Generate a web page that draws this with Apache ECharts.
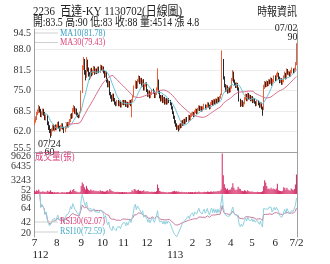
<!DOCTYPE html>
<html><head><meta charset="utf-8">
<script src="https://cdn.jsdelivr.net/npm/echarts@6/dist/echarts.min.js"></script>
<style>html,body{margin:0;padding:0;background:#fff}#c{width:330px;height:264px}</style>
</head><body><div id="c"></div>
<script>
// ---- data ----
const openP = [
64.5,65.2,66.0,67.8,68.2,69.5,68.8,67.0,67.5,68.8,67.8,66.0,67.0,64.8,63.5,62.2,61.0,62.4,63.8,62.5,63.8,
62.8,63.6,64.8,63.4,62.5,63.2,64.2,63.2,62.0,63.2,64.5,63.6,64.5,65.4,67.2,66.6,68.6,69.6,67.8,69.0,67.6,67.2,66.8,
68.0,74.8,82.5,84.5,80.8,79.2,84.2,81.8,80.2,79.2,81.6,80.2,81.0,82.2,80.6,81.6,80.8,82.2,81.0,82.6,
81.6,82.2,81.0,79.5,80.6,78.2,76.5,77.8,74.0,73.2,72.0,73.6,72.2,71.0,70.5,71.6,70.4,71.4,70.0,70.8,
71.6,70.8,71.6,70.2,71.0,70.0,70.8,71.6,70.4,71.8,73.2,76.0,77.6,76.0,78.0,79.2,77.5,78.6,76.5,78.2,75.5,76.6,
77.2,75.0,73.4,74.6,73.0,74.0,75.2,74.6,73.0,74.0,75.5,77.8,74.6,73.2,72.0,73.2,71.5,72.6,71.0,72.2,71.0,
72.0,71.6,70.8,69.6,68.0,66.6,65.2,64.2,63.0,63.6,62.8,64.2,63.5,65.2,64.2,65.6,64.8,66.2,65.5,66.8,66.0,67.0,
67.4,67.8,67.0,68.2,68.8,68.0,69.0,69.8,69.0,69.6,68.8,69.5,70.2,69.4,70.0,
70.8,70.0,69.5,70.8,71.5,70.6,71.8,71.0,72.0,71.2,72.5,71.8,72.8,74.0,84.5,79.0,76.5,75.0,76.2,74.5,75.5,
74.8,76.0,78.5,80.5,78.0,77.0,76.2,77.0,75.5,72.0,70.5,71.5,70.2,71.0,72.5,73.5,72.0,73.8,72.5,73.2,
72.0,72.8,71.5,72.2,71.2,70.5,71.5,70.8,70.0,70.8,69.5,69.0,76.0,77.2,76.5,77.5,76.8,78.0,77.5,78.5,77.0,78.0,
79.2,78.5,79.8,80.2,79.0,77.8,78.5,77.2,78.0,79.2,80.2,79.0,81.2,80.2,80.5,79.8,80.8,81.5,81.0,
81.5,83.5];
const closeP = [
65.0,66.2,67.5,68.0,69.2,68.5,67.0,67.8,68.6,67.5,66.0,66.8,64.5,63.0,62.0,61.2,62.5,63.5,62.8,63.6,62.9,
63.8,64.5,63.2,62.6,63.5,64.0,63.0,62.2,63.4,64.2,63.8,64.6,65.5,67.0,66.5,68.8,69.5,68.0,68.8,67.5,67.0,66.8,67.8,
74.5,82.0,84.5,80.5,79.0,84.0,81.5,80.0,79.0,81.5,80.0,81.0,82.0,80.5,81.5,80.8,82.0,81.0,82.5,81.8,
82.0,81.0,79.5,80.5,78.0,76.5,77.5,74.0,73.0,72.0,73.5,72.0,71.0,70.5,71.5,70.5,71.2,70.0,70.8,71.5,
70.8,71.5,70.2,71.0,70.0,70.8,71.5,70.5,71.8,73.0,76.0,77.5,76.0,78.0,79.0,77.5,78.5,76.5,78.0,75.5,76.5,77.0,
75.0,73.5,74.5,73.0,74.0,75.0,74.5,73.0,74.0,75.5,77.5,74.5,73.0,72.0,73.0,71.5,72.5,71.0,72.0,71.0,71.8,
71.5,70.8,69.5,68.0,66.5,65.0,64.0,63.0,63.5,62.8,64.0,63.5,65.0,64.2,65.5,64.8,66.0,65.5,66.8,66.0,67.2,67.5,
67.8,67.0,68.2,68.8,68.0,69.0,69.8,69.0,69.6,68.8,69.5,70.2,69.4,70.0,70.8,
70.0,69.5,70.8,71.5,70.6,71.8,71.0,72.0,71.2,72.5,71.8,72.8,73.5,84.0,79.0,76.5,75.0,76.2,74.5,75.5,74.8,
76.0,78.5,80.5,78.0,77.0,76.2,77.0,75.5,72.0,70.5,71.5,70.2,71.0,72.5,73.5,72.0,73.8,72.5,73.2,72.0,
72.8,71.5,72.2,71.2,70.5,71.5,70.8,70.0,70.8,69.5,68.5,76.0,77.2,76.5,77.5,76.8,78.0,77.5,78.5,77.0,78.0,79.2,
78.5,79.8,80.2,79.0,77.8,78.5,77.2,78.0,79.2,80.2,79.0,81.2,80.5,80.5,79.8,80.8,81.5,81.0,81.5,
83.2,88.0];
const highP = [
65.8,66.8,68.2,69.0,70.4,70.0,69.2,68.4,69.3,69.2,68.2,67.4,67.3,65.2,64.0,62.8,63.0,64.2,64.3,64.0,64.2,
64.2,65.0,65.2,63.8,64.0,64.6,64.6,63.5,63.8,64.8,65.0,65.1,66.0,67.6,67.8,69.4,70.4,70.0,69.4,69.3,68.0,67.6,68.3,
75.0,83.0,85.6,85.0,81.5,85.6,84.8,82.3,80.8,82.0,82.2,81.6,82.8,82.6,82.0,82.0,82.6,82.6,83.2,83.0,
82.8,82.6,81.4,81.2,81.0,78.6,78.2,78.0,74.5,73.6,74.0,74.0,72.6,71.5,72.0,72.0,71.7,71.8,71.3,72.0,
72.0,72.0,72.0,71.5,71.4,71.3,72.0,72.0,72.3,73.6,76.6,78.2,78.0,78.6,79.8,79.6,79.0,79.0,78.5,78.6,77.0,77.6,
77.6,75.4,75.0,75.0,74.5,75.5,75.6,75.0,74.5,76.0,82.0,78.5,75.0,73.6,73.5,73.6,73.0,73.0,72.5,72.6,72.3,
72.6,72.0,71.2,70.0,68.4,67.0,65.6,64.6,64.0,64.0,64.5,64.6,65.5,65.6,66.0,66.0,66.5,66.6,67.3,67.2,67.7,68.0,
68.3,68.2,68.7,69.3,69.2,69.5,70.3,70.2,70.1,70.0,70.0,70.8,70.6,70.5,71.3,
71.2,70.5,71.3,72.0,71.9,72.3,72.2,72.5,72.4,73.0,72.9,73.3,74.0,87.7,85.0,79.5,77.0,76.8,76.6,76.0,76.0,
76.6,79.0,81.5,81.0,78.5,77.5,77.6,77.4,76.0,72.4,72.0,71.9,71.5,73.0,74.0,73.9,74.3,74.2,73.7,73.6,
73.3,73.2,72.7,72.6,71.6,72.0,71.9,71.2,71.3,71.2,69.9,76.8,78.0,77.8,78.2,78.0,78.6,78.5,79.2,79.0,78.6,79.8,
79.8,80.5,81.0,80.6,79.4,79.0,78.9,78.5,79.8,81.0,80.6,82.0,81.8,81.2,81.0,81.5,82.3,82.0,82.2,
84.0,90.0];
const lowP = [
64.0,64.8,65.6,67.2,67.8,68.0,66.6,66.5,67.2,67.0,65.6,65.5,64.0,62.5,61.5,60.0,60.6,62.0,62.3,62.0,62.4,
62.4,63.2,62.8,62.0,62.1,62.8,62.6,61.5,61.8,62.9,63.3,63.2,64.1,65.0,66.0,66.2,68.2,67.6,67.4,67.0,66.5,66.2,66.4,
67.8,74.2,81.5,80.0,78.2,79.0,81.0,79.4,78.3,78.8,79.5,79.8,80.6,80.0,80.2,80.2,80.4,80.5,80.6,81.2,
81.0,80.4,79.0,79.2,77.5,76.0,76.0,73.5,72.4,71.4,71.6,71.5,70.5,70.0,70.1,70.0,70.0,69.6,69.6,70.4,
70.3,70.4,69.8,69.8,69.5,69.6,70.4,70.0,66.5,71.4,72.8,75.6,75.5,75.7,77.6,77.0,77.1,76.0,76.1,75.0,75.0,76.2,
74.5,73.0,73.0,72.5,72.6,73.6,74.0,72.6,72.6,73.6,75.0,74.0,72.5,71.5,71.6,71.0,71.1,70.5,70.6,70.5,70.6,
71.0,70.3,69.0,67.5,66.0,64.5,63.5,62.5,62.6,62.0,62.4,63.0,63.1,63.8,63.8,64.3,64.4,65.0,65.1,65.5,65.6,66.6,
67.0,66.6,66.6,67.8,67.5,67.6,68.6,68.5,68.6,68.3,68.4,69.1,69.0,69.0,69.6,
69.5,69.0,69.1,70.4,70.1,70.2,70.5,70.6,70.8,70.8,71.3,71.4,72.4,73.6,78.5,76.0,74.5,74.6,74.0,74.1,74.3,
74.4,75.6,78.0,77.5,76.5,75.8,75.8,75.0,71.5,69.8,70.0,69.8,69.8,70.6,72.1,71.6,71.6,72.0,72.1,71.6,
71.6,71.0,71.1,70.8,70.0,70.1,70.3,69.5,69.6,69.0,67.0,68.8,75.5,76.0,76.1,76.3,76.4,77.0,77.1,76.5,76.6,77.6,
78.0,78.1,79.3,78.5,77.3,77.4,76.8,76.8,77.6,78.8,78.5,78.6,80.0,79.8,79.3,79.4,80.4,80.5,80.5,
81.0,83.0];
const volume = [
820,650,900,760,1100,640,520,580,700,480,560,430,780,620,540,900,560,480,420,510,390,
460,520,380,350,420,480,390,440,360,520,430,460,610,880,560,980,1200,760,640,580,450,420,560,
1850,2700,2300,1600,1100,1900,1300,950,800,1100,860,780,900,700,820,650,760,640,900,700,
720,640,580,620,800,900,640,1200,880,760,620,580,520,480,540,460,520,430,480,520,
460,520,430,480,420,460,520,480,900,700,1200,1100,780,900,1000,760,820,700,760,900,640,600,
700,620,560,520,540,580,520,560,500,700,2200,1400,760,620,520,560,480,500,440,420,460,
480,440,520,600,700,760,640,700,560,620,520,480,560,460,520,440,480,420,500,440,480,460,
480,420,500,560,460,520,600,480,460,440,520,560,480,500,620,
560,480,600,640,520,700,560,640,600,760,700,820,1100,9300,4300,2300,1500,1100,1300,900,1000,
1100,1600,2500,1500,1000,900,1100,1700,1300,1200,800,760,700,900,820,640,900,700,620,560,
600,560,520,480,500,540,480,520,460,540,700,1800,3200,2700,1900,1200,1300,1100,1500,1100,1300,1200,
1000,1300,2400,900,800,760,700,800,1600,1400,1000,1500,1100,900,800,1300,1100,900,1200,
2200,4514];
// x tick labels (month starts) and year labels
const tickIndex = [0,21,44,64,84,106,127,149,164,185,205,227,247];
const tickLabel = ['7','8','9','10','11','12','1','2','3','4','5','6','7/2'];
const yearIndex = [0,127];
const yearLabel = ['112','113'];
// axis tick values
const priceTicks = [55.5,62.0,68.5,75.0,81.5,88.0,94.5];
const volTicks = [52,3243,6435,9626];
const rsiTicks = [20,42,64,86];
// legend values as printed on the chart
const ma10Last = '81.78', ma30Last = '79.43', rsi30Last = '62.07', rsi10Last = '72.59';
// annotations
const lowNote = {index: 15, date: '07/24', value: 60};
const highNote = {index: 247, date: '07/02', value: 90};

// ---- indicators derived from the closes ----
function ma(n){ return closeP.map((c,i)=>{ if(i<n-1) return '-'; let s=0; for(let k=i-n+1;k<=i;k++) s+=closeP[k]; return +(s/n).toFixed(2); }); }
function rsi(n){ const out=['-']; let ag=0, al=0;
  for(let i=1;i<closeP.length;i++){ const d=closeP[i]-closeP[i-1]; const g=Math.max(d,0), l=Math.max(-d,0);
    const k=Math.min(i,n); ag=(ag*(k-1)+g)/k; al=(al*(k-1)+l)/k;
    out.push(i<3?'-':+(100*ag/(ag+al||1)).toFixed(2)); }
  return out; }

const cats = closeP.map((_,i)=>String(i));
const kData = closeP.map((c,i)=>[openP[i],c,lowP[i],highP[i]]);
const last = closeP.length-1;
const serif = '"Liberation Serif","Noto Sans CJK TC",serif';

const chart = echarts.init(document.getElementById('c'), null, {renderer:'canvas'});
const lbl = {fontFamily: serif, fontSize: 10, lineHeight: 8, padding: 0, color: '#333', margin: 3, showMinLabel: true, showMaxLabel: true, hideOverlap: false,
  verticalAlignMaxLabel:'top', verticalAlignMinLabel:'bottom'};
const rightAxis = (g)=>({type:'value', gridIndex:g, position:'right', axisLine:{show:true, lineStyle:{color:'#a0a0a0'}}, axisTick:{show:false}, axisLabel:{show:false}, splitLine:{show:false}});
chart.setOption({
  animation:false,
  backgroundColor:'#fff',
  grid:[
    {left:34, right:33, top:29, height:123},
    {left:34, right:33, top:152, height:42},
    {left:34, right:33, top:194, height:43}
  ],
  xAxis:[
    {type:'category', gridIndex:0, data:cats, boundaryGap:true, axisLine:{show:true, lineStyle:{color:'#a0a0a0'}}, axisTick:{show:false}, axisLabel:{show:false}, splitLine:{show:false}},
    {type:'category', gridIndex:1, data:cats, boundaryGap:true, axisLine:{show:false}, axisTick:{show:false}, axisLabel:{show:false}},
    {type:'category', gridIndex:2, data:cats, boundaryGap:true, axisLine:{show:false}, axisTick:{show:false},
      axisLabel:{show:true, interval:(i)=>tickIndex.includes(i), formatter:(v,i)=>tickLabel[tickIndex.indexOf(i)] ?? '',
        fontFamily:serif, fontSize:11, color:'#222', margin:1}},
    {type:'category', gridIndex:2, data:cats, boundaryGap:true, position:'bottom', offset:12, axisLine:{show:false}, axisTick:{show:false},
      axisLabel:{show:true, interval:(i)=>yearIndex.includes(i), formatter:(v,i)=>yearLabel[yearIndex.indexOf(i)] ?? '',
        fontFamily:serif, fontSize:11, color:'#222', margin:1, align:'left', padding:[0,0,0,-2]}}
  ],
  yAxis:[
    {type:'value', gridIndex:0, min:priceTicks[0], max:priceTicks[priceTicks.length-1], interval:priceTicks[1]-priceTicks[0],
      axisLine:{show:true, lineStyle:{color:'#a0a0a0'}}, axisTick:{show:false},
      axisLabel:Object.assign({}, lbl, {formatter:(v)=>v.toFixed(1)}),
      splitLine:{show:true, lineStyle:{color:'#ececec', width:1}}},
    {type:'value', gridIndex:1, min:volTicks[0], max:volTicks[volTicks.length-1], interval:(volTicks[3]-volTicks[0])/3,
      axisLine:{show:true, lineStyle:{color:'#a0a0a0'}}, axisTick:{show:false},
      axisLabel:Object.assign({}, lbl, {formatter:(v)=>String(Math.round(v))}),
      splitLine:{show:false}},
    {type:'value', gridIndex:2, min:rsiTicks[0], max:rsiTicks[rsiTicks.length-1], interval:rsiTicks[1]-rsiTicks[0],
      axisLine:{show:true, lineStyle:{color:'#a0a0a0'}}, axisTick:{show:false},
      axisLabel:Object.assign({}, lbl),
      splitLine:{show:false}},
    rightAxis(0), rightAxis(1), rightAxis(2)
  ],
  series:[
    {type:'candlestick', xAxisIndex:0, yAxisIndex:0, data:kData, barWidth:1,
      itemStyle:{color:'#e8603c', color0:'#2a2a2a', borderColor:'#e8603c', borderColor0:'#2a2a2a', borderWidth:1},
      markPoint:{silent:true, data:[
        {coord:[lowNote.index, lowNote.value], symbol:'rect', symbolSize:[0.8,4], symbolOffset:[-1,3], itemStyle:{color:'#555'},
          label:{show:true, position:'bottom', distance:-1, offset:[0,-1], formatter:lowNote.date+'\n'+lowNote.value, fontFamily:serif, fontSize:10, lineHeight:8, color:'#222'}},
        {coord:[highNote.index, highNote.value], symbol:'rect', symbolSize:[0.1,0.1], itemStyle:{color:'#555'},
          label:{show:true, position:'top', distance:1, align:'right', offset:[1,0], formatter:highNote.date+'\n'+highNote.value, fontFamily:serif, fontSize:10, lineHeight:9, color:'#222'}}
      ]}},
    {type:'line', name:'MA10', xAxisIndex:0, yAxisIndex:0, data:ma(10), symbol:'none', lineStyle:{color:'#6cc3d6', width:1}, z:3},
    {type:'line', name:'MA30', xAxisIndex:0, yAxisIndex:0, data:ma(30), symbol:'none', lineStyle:{color:'#d9708c', width:1}, z:3},
    {type:'bar', xAxisIndex:1, yAxisIndex:1, data:volume, barCategoryGap:'0%', itemStyle:{color:'#d6336c'}},
    {type:'line', name:'RSI30', xAxisIndex:2, yAxisIndex:2, data:rsi(30), symbol:'none', lineStyle:{color:'#c97b9c', width:1}},
    {type:'line', name:'RSI10', xAxisIndex:2, yAxisIndex:2, data:rsi(10), symbol:'none', lineStyle:{color:'#8fd0de', width:1}}
  ],
  graphic:[
    {type:'text', x:33, y:12, scaleX:0.84, z:100, style:{text:'2236  百達-KY 1130702(日線圖)', font:'13px '+serif, fill:'#222', verticalAlign:'middle'}},
    {type:'text', x:33, y:23, scaleX:0.82, z:100, style:{text:'開:'+openP[last]+' 高:'+highP[last]+' 低:'+lowP[last]+' 收:'+closeP[last]+' 量:'+volume[last]+' 漲 '+(closeP[last]-closeP[last-1]).toFixed(1), font:'12px '+serif, fill:'#222', verticalAlign:'middle'}},
    {type:'text', x:297, y:13, scaleX:0.83, z:100, style:{text:'時報資訊', font:'12px '+serif, fill:'#222', align:'right', verticalAlign:'middle'}},
    {type:'line', z:100, shape:{x1:35, y1:33, x2:58, y2:33}, style:{stroke:'#cfcfcf', lineWidth:1}},
    {type:'text', x:60, y:33, scaleX:0.82, z:100, style:{text:'MA10('+ma10Last+')', font:'10px '+serif, fill:'#3aa0c2', verticalAlign:'middle'}},
    {type:'line', z:100, shape:{x1:35, y1:42.5, x2:58, y2:42.5}, style:{stroke:'#cfcfcf', lineWidth:1}},
    {type:'text', x:60, y:42.5, scaleX:0.82, z:100, style:{text:'MA30('+ma30Last+')', font:'10px '+serif, fill:'#e0457a', verticalAlign:'middle'}},
    {type:'text', x:35, y:157, scaleX:0.85, z:100, style:{text:'成交量(張)', font:'10px '+serif, fill:'#d9407a', verticalAlign:'middle'}},
    {type:'line', z:100, shape:{x1:35, y1:222, x2:58, y2:222}, style:{stroke:'#cfcfcf', lineWidth:1}},
    {type:'text', x:60, y:221.5, scaleX:0.82, z:100, style:{text:'RSI30('+rsi30Last+')', font:'10px '+serif, fill:'#d9407a', verticalAlign:'middle'}},
    {type:'line', z:100, shape:{x1:35, y1:232, x2:58, y2:232}, style:{stroke:'#cfcfcf', lineWidth:1}},
    {type:'text', x:60, y:231.5, scaleX:0.82, z:100, style:{text:'RSI10('+rsi10Last+')', font:'10px '+serif, fill:'#4aaec8', verticalAlign:'middle'}}
  ]
});
</script></body></html>
